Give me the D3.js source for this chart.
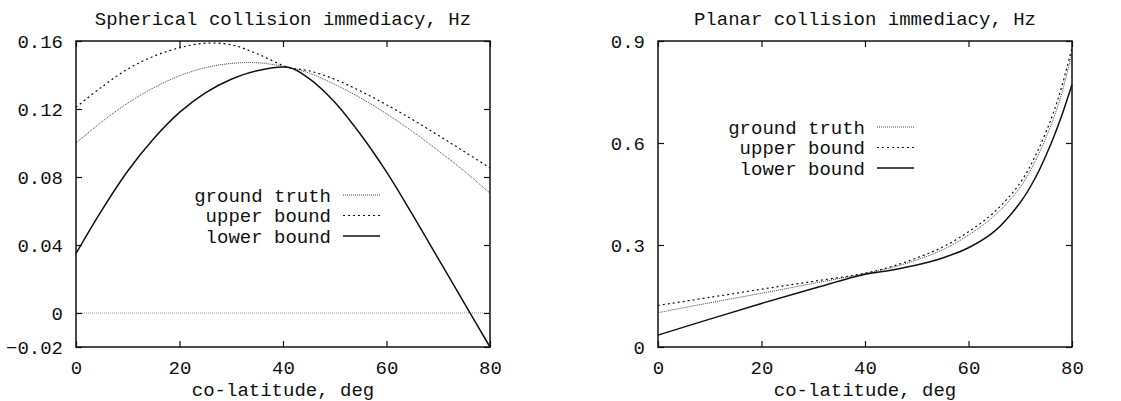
<!DOCTYPE html>
<html>
<head>
<meta charset="utf-8">
<script src="https://cdn.jsdelivr.net/npm/d3@7"></script>
<style>
    body { margin: 0; background: #fff; }
    text { font-family: "Courier New", "Liberation Mono", monospace; fill: #111; }
</style>
</head>
<body>
<div id="container"></div>
<script>
// spherical plot data
const sphDeg = [0, 5, 10, 15, 20, 25, 30, 35, 41, 45, 50, 55, 60, 65, 70, 75, 80];
const sphTruth = [0.100, 0.1125, 0.1235, 0.1325, 0.1395, 0.1443, 0.1468, 0.1472, 0.1445, 0.1412, 0.1345, 0.1265, 0.1172, 0.1068, 0.0955, 0.0835, 0.0705];
const sphUpper = [0.121, 0.133, 0.1435, 0.151, 0.156, 0.1587, 0.1578, 0.1525, 0.1445, 0.1425, 0.1375, 0.1305, 0.1225, 0.1138, 0.1045, 0.095, 0.0853];
const sphLower = [0.035, 0.0605, 0.0835, 0.1025, 0.118, 0.1295, 0.1375, 0.1425, 0.1445, 0.138, 0.124, 0.105, 0.083, 0.058, 0.032, 0.006, -0.02];
const sphTicksY = [-0.02, 0, 0.04, 0.08, 0.12, 0.16];

// planar plot data
const plnDeg = [0, 10, 20, 30, 40, 45, 50, 55, 60, 65, 70, 73, 76, 78, 80];
const plnTruth = [0.101, 0.130, 0.158, 0.187, 0.216, 0.233, 0.256, 0.286, 0.329, 0.386, 0.470, 0.550, 0.655, 0.745, 0.865];
const plnUpper = [0.122, 0.146, 0.170, 0.193, 0.217, 0.236, 0.262, 0.294, 0.339, 0.397, 0.483, 0.565, 0.672, 0.765, 0.880];
const plnLower = [0.035, 0.082, 0.128, 0.172, 0.214, 0.226, 0.241, 0.262, 0.292, 0.340, 0.425, 0.500, 0.600, 0.680, 0.772];
const plnTicksY = [0, 0.3, 0.6, 0.9];

const ticksX = [0, 20, 40, 60, 80];
const seriesNames = ["ground truth", "upper bound", "lower bound"];

const styles = [
    { stroke: "#444", width: 1, dash: "1,1" },
    { stroke: "#111", width: 1.2, dash: "2,3" },
    { stroke: "#111", width: 1.5, dash: null }
];

function main() {
    const svg = d3.select("#container")
        .append("svg")
        .attr("width", 1121)
        .attr("height", 401);

    drawPlot(svg, {
        left: 76, right: 490, top: 41, bottom: 347,
        title: "Spherical collision immediacy, Hz",
        deg: sphDeg, series: [sphTruth, sphUpper, sphLower],
        yDomain: [-0.02, 0.16], yTicks: sphTicksY, zeroLine: true,
        legendX: 331, legendY: 195
    });
    drawPlot(svg, {
        left: 658, right: 1072, top: 41, bottom: 347,
        title: "Planar collision immediacy, Hz",
        deg: plnDeg, series: [plnTruth, plnUpper, plnLower],
        yDomain: [0, 0.9], yTicks: plnTicksY, zeroLine: false,
        legendX: 865, legendY: 127
    });
}

function drawPlot(svg, p) {
    const x = d3.scaleLinear().domain([0, 80]).range([p.left, p.right]);
    const y = d3.scaleLinear().domain(p.yDomain).range([p.bottom, p.top]);
    const g = svg.append("g").attr("font-size", 19);

    if (p.zeroLine) {
        g.append("line")
            .attr("x1", p.left).attr("x2", p.right)
            .attr("y1", y(0)).attr("y2", y(0))
            .attr("stroke", "#777")
            .attr("stroke-width", 0.8)
            .attr("stroke-dasharray", "1,1");
    }

    // ticks, inward on all sides
    const tl = 6;
    g.append("g")
        .attr("transform", `translate(0,${p.bottom})`)
        .call(d3.axisBottom(x).tickValues(ticksX).tickSizeInner(-tl).tickSizeOuter(0).tickPadding(14))
        .call(a => a.select(".domain").remove());
    g.append("g")
        .attr("transform", `translate(0,${p.top})`)
        .call(d3.axisTop(x).tickValues(ticksX).tickSizeInner(-tl).tickSizeOuter(0).tickFormat(""))
        .call(a => a.select(".domain").remove());
    g.append("g")
        .attr("transform", `translate(${p.left},0)`)
        .call(d3.axisLeft(y).tickValues(p.yTicks).tickSizeInner(-tl).tickSizeOuter(0).tickPadding(13)
            .tickFormat(d => d3.format("")(+d.toFixed(2))))
        .call(a => a.select(".domain").remove());
    g.append("g")
        .attr("transform", `translate(${p.right},0)`)
        .call(d3.axisRight(y).tickValues(p.yTicks).tickSizeInner(-tl).tickSizeOuter(0).tickFormat(""))
        .call(a => a.select(".domain").remove());
    g.selectAll(".tick line").attr("stroke", "#111").attr("stroke-width", 1.2);
    g.selectAll(".tick text")
        .attr("font-size", 19)
        .attr("font-family", '"Courier New", "Liberation Mono", monospace')
        .attr("fill", "#111");

    // curves
    const line = d3.line()
        .x((d, i) => x(p.deg[i]))
        .y(d => y(d))
        .curve(d3.curveCatmullRom.alpha(0.5));
    p.series.forEach((s, k) => {
        g.append("path")
            .datum(s)
            .attr("d", line)
            .attr("fill", "none")
            .attr("stroke", styles[k].stroke)
            .attr("stroke-width", styles[k].width)
            .attr("stroke-dasharray", styles[k].dash);
    });

    // frame
    g.append("rect")
        .attr("x", p.left).attr("y", p.top)
        .attr("width", p.right - p.left).attr("height", p.bottom - p.top)
        .attr("fill", "none")
        .attr("stroke", "#111")
        .attr("stroke-width", 1.5);

    // legend
    seriesNames.forEach((name, k) => {
        const ly = p.legendY + k * 20.5;
        g.append("text")
            .attr("x", p.legendX)
            .attr("y", ly)
            .attr("dy", "0.35em")
            .attr("text-anchor", "end")
            .text(name);
        g.append("line")
            .attr("x1", p.legendX + 12).attr("x2", p.legendX + 49)
            .attr("y1", ly).attr("y2", ly)
            .attr("stroke", styles[k].stroke)
            .attr("stroke-width", styles[k].width)
            .attr("stroke-dasharray", styles[k].dash);
    });

    g.append("text")
        .attr("x", (p.left + p.right) / 2)
        .attr("y", 25)
        .attr("text-anchor", "middle")
        .text(p.title);
    g.append("text")
        .attr("x", (p.left + p.right) / 2)
        .attr("y", 396)
        .attr("text-anchor", "middle")
        .text("co-latitude, deg");
}

main();
</script>
</body>
</html>
